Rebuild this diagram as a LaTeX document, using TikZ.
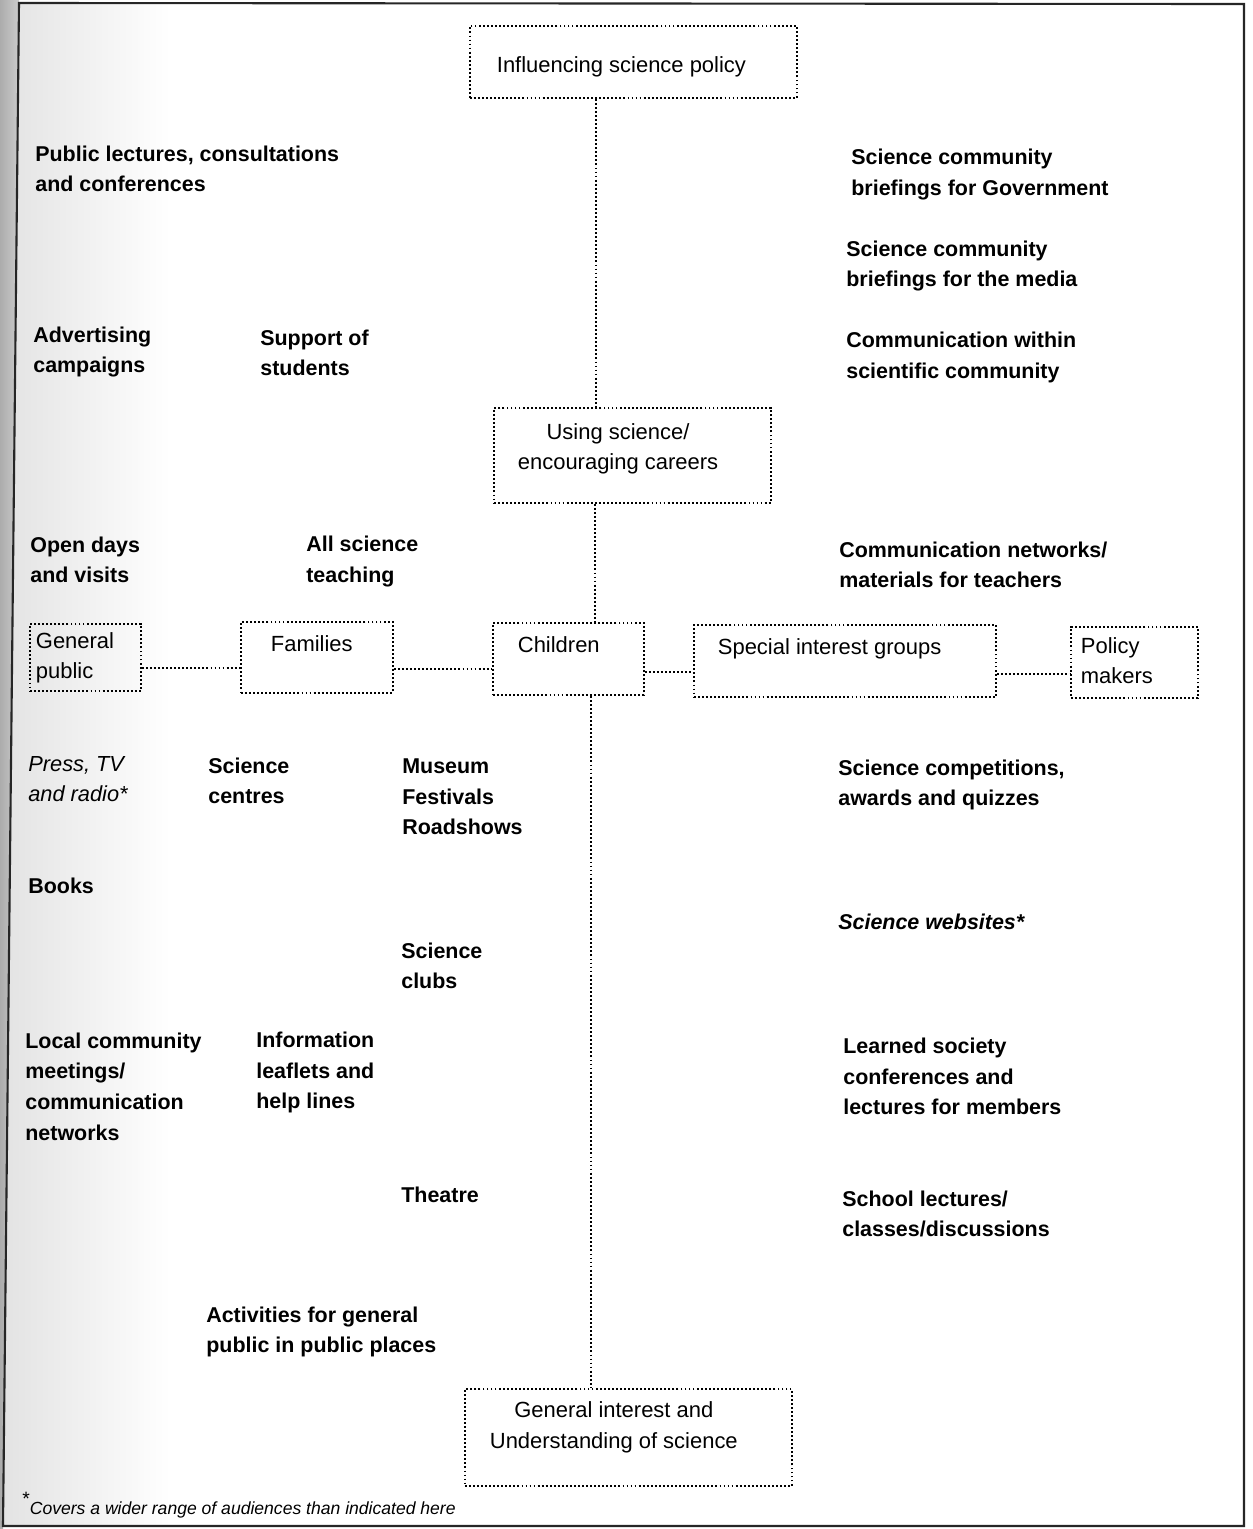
\documentclass[tikz,border=0pt]{standalone}
\usepackage{fontspec}
\setmainfont{Liberation Sans}
\newcommand\lblfont{\fontsize{12.2}{17.4}\selectfont\bfseries}
\newcommand\bxfont{\fontsize{12.5}{17.4}\selectfont}
\newcommand\bxtext[5]{\makebox[#1][l]{\hspace*{#2}\raisebox{#3}[\height][\depth]{\begin{tabular}{@{}#4@{}}#5\end{tabular}}}}
\tikzset{
  dotline/.style={line width=1.05pt, dash pattern=on 1.05pt off 1.25pt, draw=black},
  dbox/.style={draw, dotline, inner sep=0pt, anchor=north west, font=\bxfont},
  conn/.style={dotline},
  lbl/.style={anchor=west, align=left, inner sep=0pt, font=\lblfont},
  lbli/.style={lbl, font=\lblfont\itshape},
  lblr/.style={lbl, font=\fontsize{12.4}{17.4}\selectfont\itshape},
}
\begin{document}
\begin{tikzpicture}[x=0.02cm, y=-0.02cm]
\useasboundingbox (0,0) rectangle (1252,1529);
% scan shading at the left edge
\shade[left color=gray!22, right color=white, draw=none] (3,3) rectangle (170,1526);
\shade[left color=gray!65, right color=gray!40, draw=none] (0,0) -- (19,0) -- (19,3) -- (3,1526) -- (3,1529) -- (0,1529) -- cycle;
% frame
\draw[line width=1.2pt, black!85] (19,3) -- (1244,4) -- (1244,1526) -- (3,1526) -- cycle;

% boxes
\node[dbox, minimum width=6.54cm, minimum height=1.44cm] (inf) at (469,25) {\bxtext{6.54cm}{0.54cm}{-0.08cm}{l}{Influencing science policy}};
\node[dbox, minimum width=5.54cm, minimum height=1.90cm] (using) at (493,407) {\bxtext{5.54cm}{0.48cm}{0.14cm}{c}{Using science/\\encouraging careers}};
\node[dbox, minimum width=2.22cm, minimum height=1.34cm] (gp) at (29,623) {\bxtext{2.22cm}{0.12cm}{0cm}{l}{General\\public}};
\node[dbox, minimum width=3.04cm, minimum height=1.42cm] (fam) at (240,621) {\bxtext{3.04cm}{0.6cm}{0.25cm}{l}{Families}};
\node[dbox, minimum width=3.02cm, minimum height=1.44cm] (chi) at (492,622) {\bxtext{3.02cm}{0.5cm}{0.26cm}{l}{Children}};
\node[dbox, minimum width=6.04cm, minimum height=1.44cm] (sig) at (693,624) {\bxtext{6.04cm}{0.48cm}{0.26cm}{l}{Special interest groups}};
\node[dbox, minimum width=2.54cm, minimum height=1.42cm] (pol) at (1070,626) {\bxtext{2.54cm}{0.2cm}{0cm}{l}{Policy\\makers}};
\node[dbox, minimum width=6.54cm, minimum height=1.94cm] (gen) at (464,1388) {\bxtext{6.54cm}{0.5cm}{0.21cm}{c}{General interest and\\Understanding of science}};

% connectors
\coordinate (c1) at ([xshift=-0.75cm]inf.south);
\draw[conn] (c1) -- (c1 |- using.north);
\coordinate (c2) at ([xshift=-0.75cm]using.south);
\draw[conn] (c2) -- (c2 |- chi.north);
\coordinate (c3) at ([xshift=0.45cm]chi.south);
\draw[conn] (c3) -- (c3 |- gen.north);
\coordinate (h1) at ([yshift=-0.21cm]gp.east);
\draw[conn] (h1) -- (h1 -| fam.west);
\coordinate (h2) at ([yshift=-0.23cm]fam.east);
\draw[conn] (h2) -- (h2 -| chi.west);
\coordinate (h3) at ([yshift=-0.26cm]chi.east);
\draw[conn] (h3) -- (h3 -| sig.west);
\coordinate (h4) at ([yshift=-0.26cm]sig.east);
\draw[conn] (h4) -- (h4 -| pol.west);

% labels
\node[lbl] (l1) at (35,169) {Public lectures, consultations\\and conferences};
\node[lbl] (l2) at (851,174.5) {Science community\\briefings for Government};
\node[lbl] (l3) at (846,266) {Science community\\briefings for the media};
\node[lbl] (l4) at (33,352) {Advertising\\campaigns};
\node[lbl] (l5) at (260,353) {Support of\\students};
\node[lbl] (l6) at (846,357.5) {Communication within\\scientific community};
\node[lbl] (l7) at (30,560) {Open days\\and visits};
\node[lbl] (l8) at (306,561.5) {All science\\teaching};
\node[lbl] (l9) at (839,565) {Communication networks/\\materials for teachers};
\node[lblr] (l10) at (28,779) {Press, TV\\and radio*};
\node[lbl] (l11) at (208,781) {Science\\centres};
\node[lbl] (l12) at (402,797) {Museum\\Festivals\\Roadshows};
\node[lbl] (l13) at (838,785) {Science competitions,\\awards and quizzes};
\node[lbl] (l14) at (28,886) {Books};
\node[lbli] (l15) at (838,922) {Science websites*};
\node[lbl] (l16) at (401,966) {Science\\clubs};
\node[lbl] (l17) at (25,1086.5) {Local community\\meetings/\\communication\\networks};
\node[lbl] (l18) at (256,1072.5) {Information\\leaflets and\\help lines};
\node[lbl] (l19) at (843,1076.5) {Learned society\\conferences and\\lectures for members};
\node[lbl] (l20) at (401,1195) {Theatre};
\node[lbl] (l21) at (842,1214) {School lectures/\\classes/discussions};
\node[lbl] (l22) at (206,1332) {Activities for general\\public in public places};
\node[anchor=west, inner sep=0pt, font=\fontsize{10}{12}\selectfont\itshape] (fn) at (22,1505) {\raisebox{0.9ex}{\fontsize{11}{11}\selectfont\upshape *}Covers a wider range of audiences than indicated here};
\end{tikzpicture}
\end{document}
